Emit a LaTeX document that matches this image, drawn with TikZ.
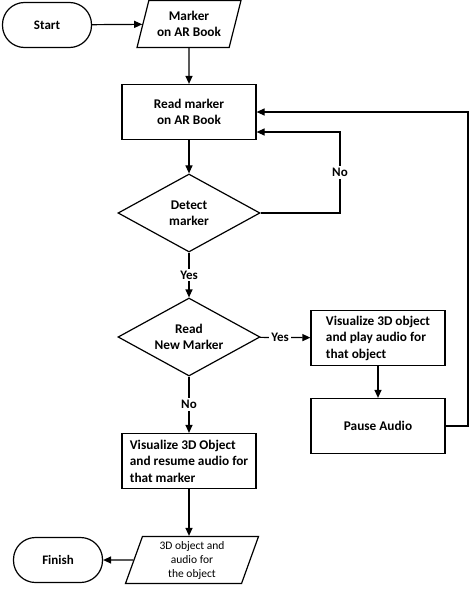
\documentclass[tikz,border=0pt]{standalone}
\usepackage{fontspec}
\setmainfont{Carlito}
\usetikzlibrary{shapes.geometric, arrows.meta}

\tikzset{
	terminal/.style = {draw, line width=1.2pt, rounded corners=22pt, minimum width=89pt, minimum height=45pt, font=\bfseries\fontsize{13}{16}\selectfont},
	process/.style = {draw, line width=1.2pt, minimum width=134pt, minimum height=55pt, align=center, inner sep=2pt, font=\bfseries\fontsize{13.3}{16.5}\selectfont},
	decision/.style = {draw, line width=1.2pt, diamond, aspect=1.82, minimum width=142pt, minimum height=78pt, inner sep=0pt, align=center, font=\bfseries\fontsize{13.3}{16.5}\selectfont},
	dataio/.style = {draw, line width=1.2pt, trapezium, trapezium left angle=67, trapezium right angle=113, trapezium stretches body, minimum height=47pt, inner sep=1pt, align=center},
	flow/.style = {line width=1.2pt, -{Triangle[length=8pt, width=7pt]}},
	tag/.style = {fill=white, inner sep=2pt, font=\bfseries\fontsize{13}{16}\selectfont}
}

\begin{document}
\begin{tikzpicture}[x = 1pt, y = -1pt]
	%	page frame
	\useasboundingbox (0, 0) rectangle (474, 589);
	
	%	nodes
	\node[terminal] (start) at (47, 25) {Start};
	\node[dataio, minimum width=104pt, font=\bfseries\fontsize{13.3}{16.5}\selectfont] (marker) at (189, 24) {Marker\\on AR Book};
	\node[process] (read) at (189, 112) {Read marker\\on AR Book};
	\node[decision] (detect) at (189, 213) {Detect\\marker};
	\node[decision] (newmarker) at (189, 337) {Read\\New Marker};
	\node[process, align=left] (visual) at (378, 338) {Visualize 3D object\\and play audio for\\that object};
	\node[process] (pause) at (378, 426) {Pause Audio};
	\node[process, align=left] (resume) at (189, 461) {Visualize 3D Object\\and resume audio for\\that marker};
	\node[dataio, minimum width=133pt, font=\fontsize{11.5}{14}\selectfont] (output) at (192, 560) {3D object and\\audio for\\the object};
	\node[terminal] (finish) at (58, 560) {Finish};
	
	%	loop corners
	\coordinate (noturn) at (340, 132);
	\coordinate (backturn) at (468, 112);
	
	%	connectors
	\draw[flow] (start) -- (marker);
	\draw[flow] (marker) -- (read);
	\draw[flow] (read) -- (detect);
	\draw[flow] (detect.east) -| node[tag, pos=0.75]{No} (noturn) -- (noturn -| read.east);
	\draw[flow] (detect) -- node[tag]{Yes} (newmarker);
	\draw[flow] (newmarker) -- node[tag, pos=0.4]{Yes} (visual);
	\draw[flow] (visual) -- (pause);
	\draw[flow] (pause.east) -| (backturn) -- (read.east);
	\draw[flow] (newmarker) -- node[tag]{No} (resume);
	\draw[flow] (resume) -- (resume |- output.north);
	\draw[flow] (output) -- (finish);
\end{tikzpicture}
\end{document}
